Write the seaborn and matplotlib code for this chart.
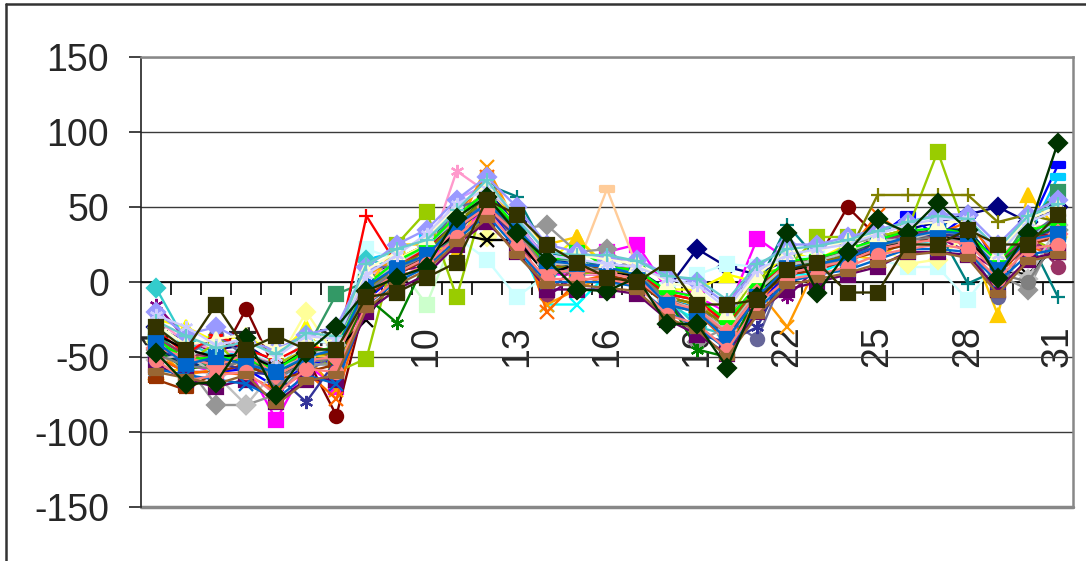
import numpy as np
import matplotlib
matplotlib.use("Agg")
import matplotlib.pyplot as plt
from matplotlib.lines import Line2D
import seaborn as sns

days = list(range(1, 32))

s01 = [-30, -40, -45, -42, -55, -40, -40, 0, 15, 25, 45, 60, 40, 15, 12, 10, 8, -5, 22, 10, 5, 15, 15, 20, 30, 35, 40, 45, 50, 40, 50]
s02 = [-45, -55, -60, -55, -92, -55, -70, -10, 5, 15, 30, 50, 30, 5, 5, 20, 25, -5, -10, -20, 29, 15, 10, 20, 25, 30, 30, 35, 5, 25, 20]
s03 = [-25, -30, -40, -35, -50, -30, -65, 5, 15, 25, 45, 60, 35, 12, 30, 10, 5, -5, -5, 5, 0, 20, 15, 25, 30, 35, 25, 30, 15, 35, 40]
s04 = [-35, -45, -50, -48, -65, -45, -55, -8, 5, 15, 35, 50, 28, -15, -15, 5, 0, -15, -25, -30, -10, 5, 5, 15, 20, 25, 28, 32, 5, 28, 30]
s05 = [-15, -38, -48, -55, -58, -50, -45, -3, 8, 10, 30, 45, 30, -10, 5, 5, 8, -12, -20, -35, -8, -10, 10, 15, 25, 30, 30, 20, 8, 35, 10]
s06 = [-42, -52, -55, -18, -60, -50, -89, -10, 12, 20, 40, 55, 30, 5, 10, 8, 5, -10, -15, -28, -5, 8, 15, 50, 30, 32, 28, 30, 12, 25, 30]
s07 = [-40, -48, -58, -52, -62, -46, -50, -5, 10, 25, 50, 65, 57, 20, 15, 10, 5, -8, -12, -25, -3, 38, 15, 20, 28, 30, 35, -1, 8, 30, -10]
s08 = [-50, -60, -60, -58, -70, -55, -52, -12, 5, 15, 35, 50, 25, 8, 8, 12, 10, -12, -20, -40, -15, 5, 8, 15, 30, 45, 30, 45, 10, 35, 78]
s09 = [-38, -50, -45, -50, -60, -48, -45, 15, 20, 30, 45, 55, 35, 15, 10, 10, 5, -10, -18, -35, -5, 10, 15, 18, 25, 30, 30, 35, 10, 30, 70]
s10 = [-30, -42, -48, -45, -55, -40, -40, 22, 15, 20, 30, 15, -10, 5, 10, 5, 5, -5, 5, 12, 10, 15, 18, 15, 15, 10, 10, -12, 15, 25, 30]
s11 = [-35, -45, -55, -50, -58, -45, -50, -5, 12, -15, 35, 50, 30, 10, 10, 8, 5, -10, -15, -30, -5, 10, 12, 18, 25, 30, 32, 30, 10, 30, 35]
s12 = [-40, -48, -52, -52, -55, -20, -50, -3, 15, 25, 35, 30, 35, 12, 10, 10, 5, -8, -12, -25, -5, 10, 15, 15, 25, 12, 15, 32, 8, 30, 30]
s13 = [-45, -55, -50, -55, -65, -55, -55, -8, 8, 18, 40, 58, 38, 10, 12, 8, 5, -10, -15, -30, -5, 10, 12, 18, 25, 30, 35, 30, 10, 30, 40]
s14 = [-25, -40, -45, -48, -55, -45, -45, 5, 10, 15, 74, 60, 35, 10, 5, 5, 5, -10, -15, -30, -5, 12, 15, 20, 28, 30, 35, 30, 15, 35, 40]
s15 = [-40, -50, -55, -50, -60, -50, -48, 0, 12, 25, 55, 65, 40, 15, 10, 8, 5, -10, -15, -28, -5, 12, 10, 20, 25, 32, 30, 30, 10, 30, 30]
s16 = [-35, -45, -50, -60, -55, -52, -45, -5, 10, 20, 40, 60, 35, 10, 10, 62, 10, -10, -15, -30, -5, 10, 12, 18, 25, 30, 32, 30, 10, 30, 35]
s17 = [-48, -55, -58, -52, -62, -50, -45, -5, 8, 18, 42, 52, 32, 8, 10, 12, 5, -12, -18, -32, -5, 8, 12, 18, 25, 30, 32, 32, 10, 28, 35]
s18 = [-4, -40, -50, -48, -58, -48, -45, 15, 10, 25, 40, 55, 35, 5, 10, 8, 5, -10, -30, -35, -5, 10, 12, 12, 25, 30, 32, 30, 5, 30, 35]
s19 = [-40, -55, -40, -60, -55, -45, -60, -51, 25, 47, -10, 60, 30, 10, 5, 8, 5, -10, -15, -25, 5, 10, 30, 30, 30, 35, 87, 30, 10, 30, 20]
s20 = [-60, -58, -55, -50, -60, -50, -48, -5, 25, 25, 20, 65, 40, 25, 30, 8, 10, -10, -15, -30, -5, 10, 12, 18, 15, 30, 32, 30, -22, 58, 35]
s21 = [-45, -62, -58, -52, -65, -50, -72, 5, 15, 20, 35, 77, 38, -15, -5, 5, 5, -10, -15, -35, -5, -30, 12, 18, 30, 30, 35, 30, 10, 30, 35]
s22 = [-50, -60, -60, -62, -72, -60, -78, -10, 10, 20, 45, 70, 40, -20, 0, 5, 5, -10, -20, -40, -15, 10, 8, 20, 45, 30, 32, 40, 15, 25, 15]
s23 = [-40, -50, -35, -50, -55, -60, -48, 10, 10, 20, 50, 55, 25, 10, 10, 8, 5, -10, -20, -25, -38, 10, 12, 18, 25, 30, 32, 25, -10, 30, 45]
s24 = [-45, -55, -82, -82, -75, -55, -55, -10, 10, 20, 40, 55, 35, 38, 20, 22, 5, -10, -40, -30, -5, 15, 12, 25, 30, 30, 32, 30, 5, -5, 35]
s25 = [-42, -58, -50, -55, -65, -52, -50, -8, 8, 22, 42, 50, 30, 8, 12, 10, 3, -12, -18, -35, -8, 8, 10, 15, 28, 32, 35, 35, 12, 33, 30]
s26 = [-35, -50, -58, -45, -60, -45, -8, 0, 10, 18, 30, 60, 35, 15, 15, 5, 5, -10, -20, -32, -5, 15, 12, 22, 22, 30, 35, 30, 10, 40, 60]
s29 = [-65, -72, -60, -55, -65, -60, -55, -10, 5, 15, 35, 50, 30, 5, 8, 5, 0, -15, -20, -35, -10, 5, 8, 15, 20, 25, 30, 28, 5, 25, 30]
s30 = [-38, -48, -50, -55, -58, -45, -50, -3, 12, 22, 38, 52, 32, -8, 12, 10, 8, -8, -12, -28, -3, 12, 15, 20, 27, 32, 34, 32, 12, 32, 10]
s31 = [-42, -55, -52, -60, -62, -80, -52, -8, 8, 15, 35, 50, 30, 5, 8, 8, 3, -12, -35, -40, -30, 10, 12, 18, 25, 30, 32, 30, 10, 30, 35]
s32 = [-32, -48, -35, -45, -52, -42, -47, 44, 12, 22, 38, 52, 33, 12, 8, 10, 6, -8, -12, -28, -2, 12, 14, 16, 22, 28, 30, 28, 8, 28, 33]
s33 = [-45, -58, -55, -50, -62, -50, -52, -10, -27, 15, 38, 58, 35, 10, 10, 8, 5, -10, -45, -50, -5, 8, 14, 20, 27, 28, 35, 33, 12, 28, 38]
s34 = [-40, -50, -52, -50, -60, -48, -48, -5, 10, 20, 40, 55, 35, 10, 10, 8, 5, -10, -15, -30, -5, 10, 12, 18, 58, 58, 58, 58, 40, 45, 40]
s35 = [-35, -45, -50, -48, -58, -45, -45, -25, 6, 18, 32, 28, 28, 5, 12, 6, 4, -12, -18, -32, -8, 8, 10, 16, 22, 28, 30, 28, 8, 5, 25]
s36 = [-52, -48, -62, -82, -58, -50, -42, -3, 12, 24, 42, 58, 38, 12, 12, 6, 2, -12, -18, -32, -6, 12, 14, 20, 28, 28, 34, 32, 12, 2, 38]
s37 = [-48, -56, -58, -52, -64, -54, -50, -6, 8, 18, 38, 52, 34, 8, 6, 10, 6, -12, -20, -34, -8, 6, 10, 16, 24, 28, 30, 26, 6, 0, 30]
s38 = [-38, -52, -50, -52, -58, -46, -44, -2, 14, 24, 44, 60, 36, 12, 22, 10, 8, -6, -10, -26, -2, 14, 16, 22, 28, 34, 36, 32, 14, 34, 40]
s39 = [-44, -50, -56, -48, -62, -52, -50, -8, 6, 16, 36, 50, 32, 6, 8, 6, 2, -14, -18, -34, -8, 6, 10, 14, 22, 26, 28, 26, 6, 26, 32]
s40 = [-40, -55, -50, -55, -60, -50, -45, -3, 10, 18, 38, 52, 36, 14, 12, 10, 5, -15, -20, -38, -10, 10, 12, 16, 24, 30, 34, 32, 8, 28, 32]
s41 = [-20, -35, -30, -40, -45, -35, -30, 10, 25, 35, 55, 70, 50, 25, 20, 15, 15, 5, 0, -15, 10, 25, 25, 30, 35, 40, 45, 45, 25, 45, 55]
s42 = [-55, -65, -70, -65, -80, -65, -65, -20, -5, 5, 25, 40, 20, -5, -5, -5, -8, -25, -35, -48, -20, -5, 0, 5, 10, 20, 20, 18, -5, 15, 20]
s43 = [-28, -42, -38, -35, -45, -38, -35, 8, 20, 30, 50, 65, 45, 20, 18, 15, 12, 0, -5, -20, 5, 20, 20, 28, 32, 38, 40, 40, 20, 42, 50]
s44 = [-58, -62, -65, -68, -78, -62, -68, -15, 0, 10, 28, 45, 22, 0, 0, 0, -3, -20, -30, -45, -18, 0, 5, 8, 15, 22, 22, 20, 0, 18, 22]
s45 = [-22, -30, -42, -38, -50, -36, -38, 5, 18, 32, 52, 62, 45, 18, 15, 12, 10, 2, -2, -18, 8, 18, 22, 25, 32, 38, 42, 42, 18, 40, 48]
s46 = [-52, -66, -62, -60, -75, -58, -60, -15, 2, 12, 30, 48, 24, 2, 2, 2, -2, -22, -28, -45, -15, 2, 5, 10, 18, 22, 25, 22, 2, 22, 25]
s47 = [-26, -36, -44, -40, -48, -34, -36, 12, 22, 28, 48, 68, 42, 20, 18, 18, 14, 4, 2, -12, 12, 22, 24, 28, 34, 40, 44, 42, 22, 44, 52]
s48 = [-60, -64, -68, -62, -82, -66, -62, -18, -2, 8, 26, 42, 18, -2, -2, -4, -6, -24, -32, -50, -22, -2, 2, 6, 12, 18, 20, 16, -8, 14, 18]
s27 = [-47, -68, -67, -37, -75, -47, -30, -6, 3, 10, 43, 57, 33, 15, -5, -6, 3, -28, -28, -57, -10, 33, -7, 20, 42, 33, 53, 35, 3, 33, 93]
s28 = [-30, -45, -15, -45, -36, -45, -45, -10, -7, 3, 13, 55, 45, 25, 13, 3, 0, 13, -15, -15, -12, 8, 13, -7, -7, 25, 25, 35, 25, 25, 45]

series = [s01, s02, s03, s04, s05, s06, s07, s08, s09, s10, s11, s12, s13, s14,
          s15, s16, s17, s18, s19, s20, s21, s22, s23, s24, s25, s26, s29, s30,
          s31, s32, s33, s34, s35, s36, s37, s38, s39, s40, s41, s42, s43, s44,
          s45, s46, s47, s48, s27, s28]

colors = ['#000080', '#FF00FF', '#FFFF00', '#00FFFF', '#800080', '#800000',
          '#008080', '#0000FF', '#00CCFF', '#CCFFFF', '#CCFFCC', '#FFFF99',
          '#99CCFF', '#FF99CC', '#CC99FF', '#FFCC99', '#3366FF', '#33CCCC',
          '#99CC00', '#FFCC00', '#FF9900', '#FF6600', '#666699', '#969696',
          '#003366', '#339966', '#993300', '#993366', '#333399', '#FF0000',
          '#008000', '#808000', '#000000', '#C0C0C0', '#808080', '#00FF00',
          '#FF8080', '#0066CC', '#9999FF', '#660066', '#FFFFCC', '#0066CC',
          '#CCCCFF', '#FF8080', '#66CCCC', '#996633', '#003300', '#333300']

bar = [(-1, -0.45), (1, -0.45), (1, 0.45), (-1, 0.45), (-1, -0.45)]
asterisk = (6, 2, 0)
markers = ['D', 's', '^', 'x', asterisk, 'o', '+', bar, bar, 's',
           's', 'D', bar, asterisk, 'o', bar, bar, 'D', 's', '^',
           'x', 'x', 'o', 'D', bar, 's', bar, 'o', asterisk, '+',
           asterisk, '+', 'x', 'D', 'o', bar, 'D', 's',
           'D', 's', '^', 'x', asterisk, 'o', '+', bar, 'D', 's']

sns.set_style('white')
plt.rcParams['font.family'] = ['Liberation Sans', 'DejaVu Sans']
plt.rcParams['axes.unicode_minus'] = False

fig = plt.figure(figsize=(10.86, 5.61), dpi=100)
ax = fig.add_axes([141 / 1086, 1 - 507 / 561, (1073 - 141) / 1086, 450 / 561])

for vals, c, m in zip(series, colors, markers):
    sns.lineplot(x=days, y=vals, color=c, marker=m, markersize=9.5,
                 markeredgecolor=c, markeredgewidth=1.6, linewidth=1.7,
                 zorder=3, ax=ax)

ax.set_xlim(0.5, 31.5)
ax.set_ylim(-150, 150)
ax.set_yticks([-150, -100, -50, 0, 50, 100, 150])
ax.set_xticks(list(range(1, 32, 3)))
ax.set_xticklabels([str(d) for d in range(1, 32, 3)])
ax.set_xticks([d + 0.5 for d in range(1, 31)], minor=True)
ax.grid(axis='y', color='#3a3a3a', linewidth=1.0)
ax.grid(axis='x', visible=False)

ax.spines['bottom'].set_position(('data', 0))
ax.spines['bottom'].set_color('black')
ax.spines['bottom'].set_linewidth(1.2)
ax.spines['left'].set_color('#222222')
ax.spines['left'].set_linewidth(1.2)
for side in ['top', 'right']:
    ax.spines[side].set_color('#888888')
    ax.spines[side].set_linewidth(1.8)
ax.axhline(-150, color='#888888', linewidth=2.5, clip_on=False, zorder=1)

ax.tick_params(axis='x', which='major', bottom=True, length=0, pad=31,
               labelsize=27, labelrotation=90)
ax.tick_params(axis='x', which='minor', bottom=True, direction='out',
               length=9, width=1.2, color='black')
ax.tick_params(axis='y', which='major', direction='out', length=9,
               width=1.2, color='#222222', pad=14, labelsize=27, left=True)
ax.set_xlabel('')
ax.set_ylabel('')

fig.add_artist(Line2D([6 / 1086, 1], [1 - 4 / 561, 1 - 4 / 561],
                      transform=fig.transFigure, color='#333333', linewidth=1.8))
fig.add_artist(Line2D([6 / 1086, 6 / 1086], [0, 1 - 4 / 561],
                      transform=fig.transFigure, color='#333333', linewidth=1.8))

fig.savefig('out.png', dpi=100)
